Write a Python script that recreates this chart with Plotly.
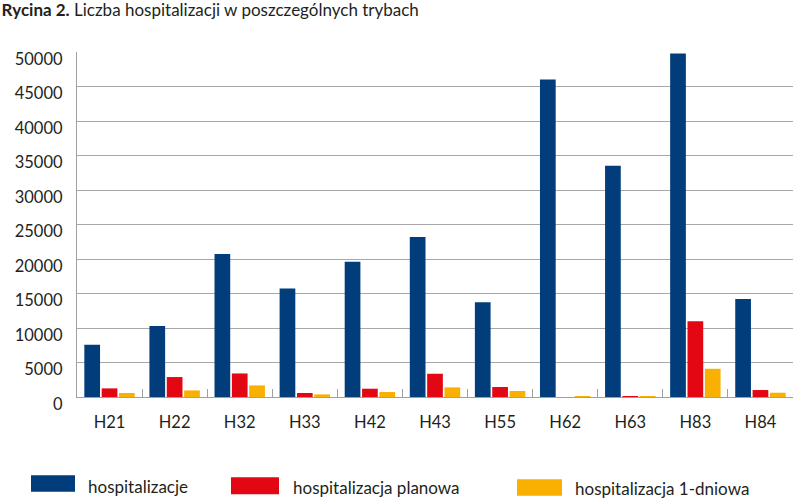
import plotly.graph_objects as go

categories = ["H21", "H22", "H32", "H33", "H42", "H43", "H55", "H62", "H63", "H83", "H84"]
hospitalizacje = [7580, 10300, 20720, 15720, 19610, 23180, 13740, 46010, 33510, 49770, 14200]
planowa = [1250, 2890, 3410, 580, 1200, 3370, 1445, 0, 40, 10980, 1010]
jednodniowa = [580, 950, 1680, 380, 720, 1390, 870, 60, 60, 4090, 620]

series_names = ["hospitalizacje", "hospitalizacja planowa", "hospitalizacja 1-dniowa"]
series_values = [hospitalizacje, planowa, jednodniowa]
colors = ["#003d7a", "#e30613", "#f9b000"]
y_ticks = [0, 5000, 10000, 15000, 20000, 25000, 30000, 35000, 40000, 45000, 50000]

FONT = "Lato"
TEXT = "#231f20"
W, H = 800, 503
L, R, T, B = 77, 7, 51.5, 105.5
PW, PH = W - L - R, H - T - B

def px_x(p):
    return (p - L) / PW

def px_y(p):
    return (H - B - p) / PH

fig = go.Figure()
for name, vals, col in zip(series_names, series_values, colors):
    fig.add_trace(go.Bar(x=categories, y=vals, name=name, marker_color=col,
                         marker_line_width=0, showlegend=False))

# custom legend (large swatches like the reference)
legend_swatch = [(31, 75, 476, 492.5), (231, 279, 478, 495), (517, 562, 480, 496.5)]
legend_text_x = [86, 290.5, 573]
legend_text_y = [487.5, 488.5, 489]
for (x0, x1, y0, y1), tx, ty, name, col in zip(legend_swatch, legend_text_x, legend_text_y, series_names, colors):
    fig.add_shape(type="rect", xref="paper", yref="paper",
                  x0=px_x(x0), x1=px_x(x1), y0=px_y(y1), y1=px_y(y0),
                  fillcolor=col, line_width=0)
    fig.add_annotation(text=name, xref="paper", yref="paper", x=px_x(tx), y=px_y(ty),
                       xanchor="left", yanchor="middle", showarrow=False,
                       font=dict(family=FONT, size=17, color=TEXT))

fig.update_layout(
    width=W, height=H,
    margin=dict(l=L, r=R, t=T, b=B, pad=0),
    paper_bgcolor="white", plot_bgcolor="white",
    barmode="group", bargap=0.2, bargroupgap=0.095,
    title=dict(text="<b>Rycina 2.</b> Liczba hospitalizacji w poszczególnych trybach",
               x=0.002, xref="container", xanchor="left",
               y=1 - 10.5 / H, yref="container", yanchor="middle",
               font=dict(family=FONT, size=17, color=TEXT)),
    font=dict(family=FONT, color=TEXT),
    showlegend=False,
)
fig.update_yaxes(range=[0, 50000], tickvals=y_ticks, ticktext=[str(v) for v in y_ticks],
                 showgrid=True, gridcolor="#a8a8a8", gridwidth=1.3,
                 showline=True, linecolor="#a0a0a0", linewidth=1.3,
                 zeroline=False, ticks="", ticklabelstandoff=10, ticklabelshift=7,
                 tickfont=dict(family=FONT, size=16.5, color=TEXT))
fig.update_xaxes(showline=True, linecolor="#a0a0a0", linewidth=1.3,
                 ticks="inside", tickson="boundaries", ticklen=8, tickcolor="#a0a0a0", tickwidth=1.3,
                 showgrid=False, ticklabelstandoff=10,
                 tickfont=dict(family=FONT, size=16.5, color=TEXT))

fig.write_html("out.html", config={"displayModeBar": False},
               post_script="document.body.style.margin='0';document.body.style.overflow='hidden';")
